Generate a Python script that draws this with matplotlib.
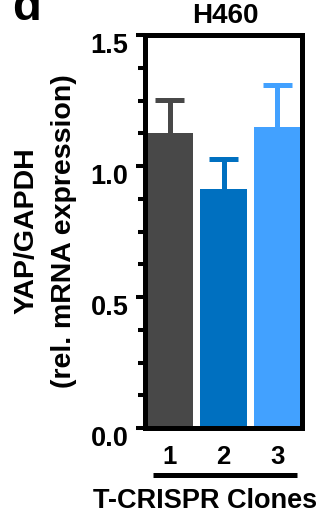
import matplotlib
matplotlib.use("Agg")
import matplotlib.pyplot as plt
import matplotlib.transforms as mtransforms
from matplotlib.ticker import MultipleLocator

plt.rcParams['font.family'] = ['Liberation Sans', 'DejaVu Sans']
plt.rcParams['font.weight'] = 'bold'

clones = ['1', '2', '3']
yap_mean = [1.126, 0.912, 1.149]
yap_err = [0.126, 0.115, 0.160]
colors = ['#484848', '#0070C0', '#42A1FF']

W, H = 329, 516
fig = plt.figure(figsize=(W / 100, H / 100), dpi=100)
ax = fig.add_axes([145 / W, 88 / H, 157 / W, 393 / H])

x = [1, 2, 3]
ax.bar(x, yap_mean, width=0.88, color=colors, edgecolor='none', zorder=2)
# upper error bars only, cap at the top end
cap = 0.27
for xi, m, e, c in zip(x, yap_mean, yap_err, colors):
    ax.vlines(xi, m, m + e, colors=c, lw=3.6, zorder=1)
    ax.hlines(m + e, xi - cap, xi + cap, colors=c, lw=3.6, zorder=1)

ax.set_xlim(0.54, 3.46)
ax.set_ylim(0, 1.5)
ax.set_yticks([0, 0.5, 1.0, 1.5])
ax.set_yticklabels(['0.0', '0.5', '1.0', '1.5'])
ax.yaxis.set_minor_locator(MultipleLocator(0.125))
ax.set_xticks(x)
ax.set_xticklabels(clones)

for s in ax.spines.values():
    s.set_linewidth(3.6)
ax.tick_params(axis='y', which='major', length=6.8, width=2.9, pad=5,
               labelsize=19.5)
ax.tick_params(axis='y', which='minor', length=4.7, width=2.9)
ax.tick_params(axis='x', length=0, pad=12.5, labelsize=18.5)

# nudge y tick labels down a little
off = mtransforms.ScaledTranslation(0, -8 / 100, fig.dpi_scale_trans)
for lab in ax.get_yticklabels():
    lab.set_transform(lab.get_transform() + off)

# bracket under the clone numbers
trans = mtransforms.blended_transform_factory(ax.transData, ax.transAxes)
ax.plot([0.69, 3.37], [-0.12, -0.12], color='black', lw=3.6,
        transform=trans, clip_on=False, solid_capstyle='butt')

fig.text(205 / W, 1 - 508 / H, 'T-CRISPR Clones', ha='center', va='baseline',
         fontsize=19.5, fontweight='bold')
fig.text(225 / W, 1 - 23 / H, 'H460', ha='center', va='baseline',
         fontsize=20, fontweight='bold')
fig.text(12 / W, 1 - 20 / H, 'd', ha='left', va='baseline',
         fontsize=34, fontweight='bold')

fig.text(26 / W, 1 - 231 / H, 'YAP/GAPDH', rotation=90,
         ha='center', va='center', fontsize=20.5, fontweight='bold')
fig.text(64 / W, 1 - 231 / H, '(rel. mRNA expression)', rotation=90,
         ha='center', va='center', fontsize=20.5, fontweight='bold')

fig.savefig('out.png', dpi=100)
